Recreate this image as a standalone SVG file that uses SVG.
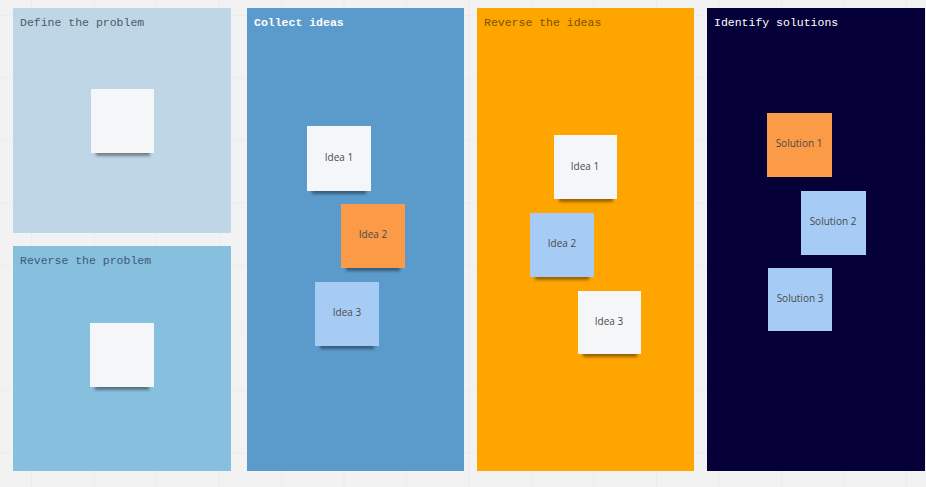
<svg xmlns="http://www.w3.org/2000/svg" width="926" height="487" viewBox="0 0 926 487">
  <defs>
    <pattern id="grid" x="31" y="15" width="62.5" height="62.5" patternUnits="userSpaceOnUse">
      <path d="M0 0 V62.5 M0 0 H62.5" fill="none" stroke="#e6e6e6" stroke-width="1"/>
    </pattern>
    <filter id="shadow" x="-20%" y="-50%" width="140%" height="200%">
      <feGaussianBlur stdDeviation="1.8"/>
    </filter>
  </defs>
  <style>
    .title { font-family: "Liberation Mono", "DejaVu Sans Mono", monospace; font-size: 11.5px; }
    .note { font-family: "Open Sans", "Noto Sans", sans-serif; font-size: 10px; fill: #4a4a4a; text-anchor: middle; dominant-baseline: central; }
    .sh { fill: #000; opacity: 0.4; filter: url(#shadow); }
    .white { fill: #f5f6f8; }
    .orange { fill: #fb9a47; }
    .blue { fill: #a6ccf5; }
  </style>
  <rect width="926" height="487" fill="#f2f2f2"/>
  <rect width="926" height="487" fill="url(#grid)"/>

  <g id="panel-define">
    <rect x="13" y="8" width="218" height="225" fill="#bfd6e6"/>
    <text class="title" x="20" y="26" fill="#4d5a66">Define the problem</text>
  </g>
  <g id="panel-reverse-problem">
    <rect x="13" y="246" width="218" height="225" fill="#87bfdf"/>
    <text class="title" x="20" y="264" fill="#3e5a73">Reverse the problem</text>
  </g>
  <g id="panel-collect">
    <rect x="247" y="8" width="217" height="463" fill="#5b9bcc"/>
    <text class="title" x="254" y="26" fill="#ffffff" font-weight="bold">Collect ideas</text>
  </g>
  <g id="panel-reverse-ideas">
    <rect x="477" y="8" width="217" height="463" fill="#fea500"/>
    <text class="title" x="484" y="26" fill="#7a5200">Reverse the ideas</text>
  </g>
  <g id="panel-identify">
    <rect x="707" y="8" width="218" height="463" fill="#050038"/>
    <text class="title" x="714" y="26" fill="#ffffff">Identify solutions</text>
  </g>

  <g id="sticky-define">
    <rect class="sh" x="96" y="150" width="54" height="6"/>
    <rect class="white" x="91" y="89" width="63" height="64"/>
  </g>
  <g id="sticky-reverse-problem">
    <rect class="sh" x="95" y="384" width="54" height="6"/>
    <rect class="white" x="90" y="323" width="64" height="64"/>
  </g>

  <g id="collect-idea-1">
    <rect class="sh" x="312" y="188" width="54" height="6"/>
    <rect class="white" x="307" y="126" width="64" height="65"/>
    <text class="note" x="339" y="157">Idea 1</text>
  </g>
  <g id="collect-idea-2">
    <rect class="sh" x="346" y="265" width="54" height="6"/>
    <rect class="orange" x="341" y="204" width="64" height="64"/>
    <text class="note" x="373" y="234">Idea 2</text>
  </g>
  <g id="collect-idea-3">
    <rect class="sh" x="320" y="343" width="54" height="6"/>
    <rect class="blue" x="315" y="282" width="64" height="64"/>
    <text class="note" x="347" y="312">Idea 3</text>
  </g>

  <g id="reverse-idea-1">
    <rect class="sh" x="559" y="196" width="54" height="6"/>
    <rect class="white" x="554" y="135" width="63" height="64"/>
    <text class="note" x="585" y="166">Idea 1</text>
  </g>
  <g id="reverse-idea-2">
    <rect class="sh" x="535" y="274" width="54" height="6"/>
    <rect class="blue" x="530" y="213" width="64" height="64"/>
    <text class="note" x="562" y="243">Idea 2</text>
  </g>
  <g id="reverse-idea-3">
    <rect class="sh" x="583" y="351" width="54" height="6"/>
    <rect class="white" x="578" y="291" width="63" height="63"/>
    <text class="note" x="609" y="321">Idea 3</text>
  </g>

  <g id="solution-1">
    <rect class="orange" x="767" y="113" width="65" height="64"/>
    <text class="note" x="799" y="143">Solution 1</text>
  </g>
  <g id="solution-2">
    <rect class="blue" x="801" y="191" width="65" height="64"/>
    <text class="note" x="833" y="221">Solution 2</text>
  </g>
  <g id="solution-3">
    <rect class="blue" x="768" y="268" width="64" height="63"/>
    <text class="note" x="800" y="298">Solution 3</text>
  </g>
</svg>
